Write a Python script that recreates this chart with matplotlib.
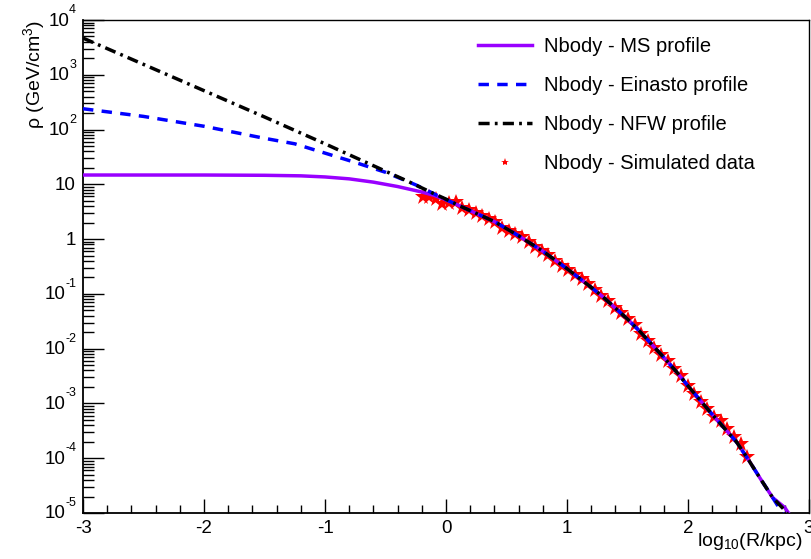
import numpy as np
import matplotlib
matplotlib.use("Agg")
import matplotlib.pyplot as plt
import matplotlib.transforms as mtransforms
from matplotlib.ticker import MultipleLocator, LogLocator, NullFormatter

plt.rcParams['font.family'] = ['Liberation Sans', 'DejaVu Sans']
plt.rcParams['mathtext.fontset'] = 'custom'
plt.rcParams['mathtext.rm'] = 'Liberation Sans'
plt.rcParams['mathtext.it'] = 'Liberation Sans'

# simulated data: log10(R/kpc) and log10(rho)
star_logr = [-0.193, -0.139, -0.084, -0.029, 0.026, 0.081, 0.136, 0.190, 0.245, 0.300,
             0.355, 0.409, 0.464, 0.519, 0.574, 0.628, 0.683, 0.738, 0.793, 0.847,
             0.902, 0.957, 1.012, 1.066, 1.121, 1.176, 1.230, 1.285, 1.340, 1.395,
             1.449, 1.504, 1.559, 1.614, 1.668, 1.723, 1.778, 1.832, 1.887, 1.942,
             1.996, 2.051, 2.106, 2.160, 2.215, 2.270, 2.325, 2.379, 2.434, 2.488]
star_logrho = [0.761, 0.776, 0.728, 0.646, 0.655, 0.670, 0.573, 0.533, 0.478, 0.423,
               0.372, 0.310, 0.204, 0.153, 0.091, 0.031, -0.047, -0.136, -0.208, -0.297,
               -0.391, -0.489, -0.562, -0.653, -0.735, -0.827, -0.936, -1.036, -1.128, -1.255,
               -1.352, -1.456, -1.575, -1.730, -1.858, -1.985, -2.113, -2.232, -2.369, -2.505,
               -2.679, -2.825, -2.965, -3.104, -3.239, -3.318, -3.464, -3.609, -3.737, -3.974]

# outer part, where the three fits overlap
outer_logr = [0.1, 0.2, 0.3, 0.4, 0.5, 0.6, 0.7, 0.8, 0.9, 1.0, 1.1, 1.2, 1.3, 1.4,
              1.5, 1.6, 1.7, 1.8, 1.9, 2.0, 2.1, 2.2, 2.3, 2.4, 2.5, 2.6, 2.7]
outer_logrho = [0.62, 0.52, 0.42, 0.32, 0.19, 0.06, -0.08, -0.22, -0.38, -0.54, -0.71, -0.88,
                -1.06, -1.26, -1.46, -1.68, -1.92, -2.16, -2.41, -2.68, -2.94, -3.20, -3.45,
                -3.70, -4.03, -4.38, -4.72]

ms_logr = [-3.0, -2.5, -2.0, -1.5, -1.2, -1.0, -0.8, -0.6, -0.4, -0.2, -0.1, 0.0] + outer_logr + [2.8, 2.86]
ms_logrho = [1.17, 1.17, 1.17, 1.165, 1.155, 1.135, 1.10, 1.04, 0.96, 0.86, 0.80, 0.72] + outer_logrho + [-4.90, -5.10]

ein_logr = [-3.0, -2.5, -2.0, -1.5, -1.25, -1.0, -0.75, -0.5, -0.25, 0.0] + outer_logr + [2.78, 2.82]
ein_logrho = [2.38, 2.24, 2.06, 1.84, 1.74, 1.57, 1.40, 1.22, 0.99, 0.72] + outer_logrho + [-5.00, -5.15]

nfw_logr = [-3.0, -2.5, -2.0, -1.5, -1.0, -0.7, -0.5, -0.3, -0.1, 0.0] + outer_logr + [2.8, 2.85]
nfw_logrho = [3.67, 3.19, 2.71, 2.23, 1.74, 1.44, 1.24, 1.04, 0.83, 0.73] + outer_logrho + [-4.95, -5.10]

xtick_vals = [-3, -2, -1, 0, 1, 2, 3]
xtick_labels = ['-3', '-2', '-1', '0', '1', '2', '3']
ytick_vals = [1e-5, 1e-4, 1e-3, 1e-2, 1e-1, 1, 10, 1e2, 1e3, 1e4]
ytick_base = ['10', '10', '10', '10', '10', '1', '10', '10', '10', '10']
ytick_exp = ['-5', '-4', '-3', '-2', '-1', '', '', '2', '3', '4']

PX = 72 / 100  # points per pixel

fig = plt.figure(figsize=(8.11, 5.59), dpi=100)
ax = fig.add_axes([83 / 811, 1 - 513 / 559, 726 / 811, 493 / 559])

ax.plot(star_logr, np.power(10.0, star_logrho), linestyle='none', marker='*',
        color='#ff0000', markersize=12, markeredgewidth=0, zorder=2,
        label='Nbody - Simulated data')
ax.plot(ms_logr, np.power(10.0, ms_logrho), color='#9900ff', lw=2.5, zorder=3,
        label='Nbody - MS profile')
ax.plot(ein_logr, np.power(10.0, ein_logrho), color='#0000ff', lw=2.5, zorder=4,
        linestyle=(0, (3.0, 2.4)), label='Nbody - Einasto profile')
ax.plot(nfw_logr, np.power(10.0, nfw_logrho), color='black', lw=2.5, zorder=5,
        linestyle=(0, (3.2, 1.5, 0.8, 1.5)), label='Nbody - NFW profile')

ax.set_yscale('log')
ax.set_xlim(-3, 3)
ax.set_ylim(1e-5, 1e4)

ax.set_xticks(xtick_vals)
ax.set_xticklabels(xtick_labels)
ax.xaxis.set_minor_locator(MultipleLocator(0.2))
ax.set_yticks(ytick_vals)
ax.yaxis.set_minor_locator(LogLocator(base=10, subs=np.arange(2, 10), numticks=20))
ax.yaxis.set_minor_formatter(NullFormatter())

ax.tick_params(axis='both', which='both', direction='in', top=False, right=False,
               labelsize=13.5, width=1.0, color='black')
ax.tick_params(axis='y', which='both', labelleft=False)
ax.tick_params(axis='x', which='major', length=10, pad=5)
ax.tick_params(axis='x', which='minor', length=5.5)
ax.tick_params(axis='y', which='major', length=15)
ax.tick_params(axis='y', which='minor', length=8)

# ROOT-like log labels: "10" with a small raised exponent
trans = mtransforms.blended_transform_factory(ax.transAxes, ax.transData)
renderer = fig.canvas.get_renderer()
for val, base, ex in zip(ytick_vals, ytick_base, ytick_exp):
    base_off = -7
    if ex:
        t = ax.annotate(ex, xy=(0, val), xycoords=trans, xytext=(-7 * PX, 4 * PX),
                        textcoords='offset points', ha='right', va='bottom', fontsize=9)
        base_off = -7 - t.get_window_extent(renderer).width
    ax.annotate(base, xy=(0, val), xycoords=trans, xytext=(base_off * PX, -1 * PX),
                textcoords='offset points', ha='right', va='center', fontsize=13.5)

for side in ['left', 'bottom']:
    ax.spines[side].set_linewidth(1.3)
for side in ['top', 'right']:
    ax.spines[side].set_linewidth(1.0)

ax.set_xlabel(r'log$_{10}$(R/kpc)', fontsize=14, loc='right')
ax.xaxis.set_label_coords((803 - 83) / 726, -0.036)
ax.set_ylabel(r'ρ (GeV/cm$^{3}$)', fontsize=14, loc='top')
ax.yaxis.set_label_coords(-0.05, 1.0)

handles, labels = ax.get_legend_handles_labels()
order = [1, 2, 3, 0]
ax.legend([handles[i] for i in order], [labels[i] for i in order],
          loc='upper left', bbox_to_anchor=((478 - 83) / 726, (513 - 37) / 493),
          frameon=False, fontsize=14.5, handlelength=2.7, handletextpad=0.6,
          labelspacing=1.0, borderpad=0, borderaxespad=0, markerscale=0.5)

fig.savefig('out.png', dpi=100)
